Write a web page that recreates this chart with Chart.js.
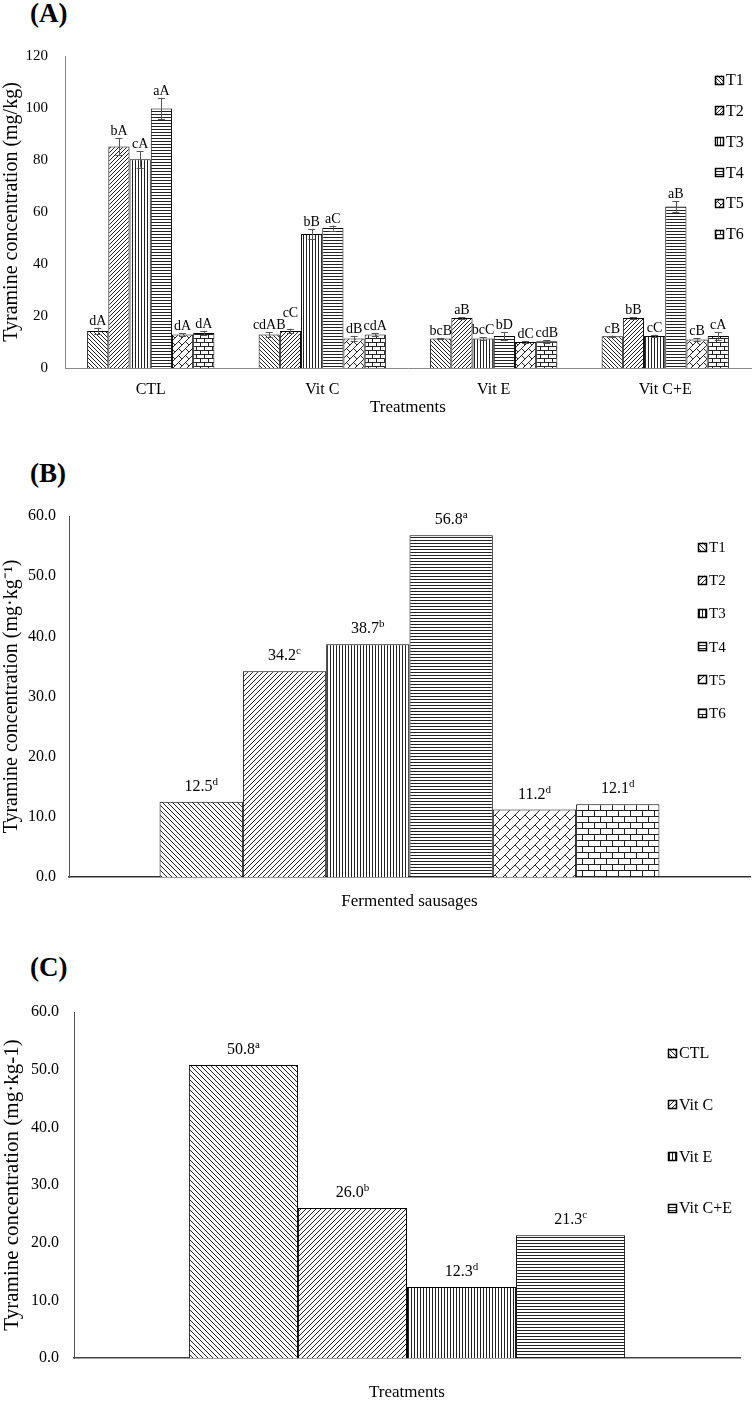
<!DOCTYPE html>
<html>
<head>
<meta charset="utf-8">
<script src="https://cdn.jsdelivr.net/npm/chart.js@4.4.1/dist/chart.umd.min.js"></script>
<style>
  body { margin: 0; background: #fff; width: 753px; height: 1403px; position: relative; overflow: hidden; font-family: "Liberation Serif", "Times New Roman", serif; }
  .tag { position: absolute; left: 30px; font-weight: bold; font-size: 27px; line-height: 27px; color: #000; }
  .box { position: absolute; left: 0; width: 753px; }
</style>
</head>
<body>
<div class="tag" style="top:0px">(A)</div>
<div class="box" style="top:30px;height:390px"><canvas id="chartA"></canvas></div>
<div class="tag" style="top:460px">(B)</div>
<div class="box" style="top:480px;height:435px"><canvas id="chartB"></canvas></div>
<div class="tag" style="top:954px">(C)</div>
<div class="box" style="top:970px;height:433px"><canvas id="chartC"></canvas></div>

<script>
/* ── data ─────────────────────────────────────────────── */
var treatments = ['CTL', 'Vit C', 'Vit E', 'Vit C+E'];
var tNames = ['T1', 'T2', 'T3', 'T4', 'T5', 'T6'];

// (A) one list per T, across the four treatments
var aT1 = [14.2, 12.9, 11.3, 12.2];
var aT2 = [85.2, 14.2, 19.2, 19.2];
var aT3 = [80.3, 51.5, 11.3, 12.3];
var aT4 = [99.8, 53.8, 12.3, 62.1];
var aT5 = [12.9, 11.3, 10.0, 11.0];
var aT6 = [13.5, 12.9, 10.3, 12.3];
var aErr1 = [1.3, 0.9, 0.3, 0.3];
var aErr2 = [3.2, 0.9, 0.3, 0.3];
var aErr3 = [3.2, 2.0, 0.5, 0.5];
var aErr4 = [4.1, 1.0, 1.5, 2.0];
var aErr5 = [0.4, 1.0, 0.3, 0.6];
var aErr6 = [0.8, 0.5, 0.5, 1.5];
var aLab1 = ['dA', 'cdAB', 'bcB', 'cB'];
var aLab2 = ['bA', 'cC', 'aB', 'bB'];
var aLab3 = ['cA', 'bB', 'bcC', 'cC'];
var aLab4 = ['aA', 'aC', 'bD', 'aB'];
var aLab5 = ['dA', 'dB', 'dC', 'cB'];
var aLab6 = ['dA', 'cdA', 'cdB', 'cA'];
var aTicks = [0, 20, 40, 60, 80, 100, 120];

// (B) fermented sausages, T1..T6
var bValues = [12.5, 34.2, 38.7, 56.8, 11.2, 12.1];
var bLetters = ['d', 'c', 'b', 'a', 'd', 'd'];
var bTicks = [0, 10, 20, 30, 40, 50, 60];

// (C) treatments
var cValues = [50.8, 26.0, 12.3, 21.3];
var cLetters = ['a', 'b', 'd', 'c'];
var cTicks = [0, 10, 20, 30, 40, 50, 60];

var SERIF = '"Liberation Serif", "Times New Roman", serif';

/* ── hatch patterns (Excel style) ─────────────────────── */
function makePattern(kind, s) {
  var c = document.createElement('canvas');
  c.width = s; c.height = s;
  var g = c.getContext('2d');
  g.fillStyle = '#fff';
  g.fillRect(0, 0, s, s);
  g.strokeStyle = '#222';
  g.lineWidth = 1;
  g.beginPath();
  if (kind === 'down') {
    g.moveTo(0, 0); g.lineTo(s, s);
    g.moveTo(-1, s - 1); g.lineTo(1, s + 1);
    g.moveTo(s - 1, -1); g.lineTo(s + 1, 1);
  } else if (kind === 'up') {
    g.moveTo(0, s); g.lineTo(s, 0);
    g.moveTo(-1, 1); g.lineTo(1, -1);
    g.moveTo(s - 1, s + 1); g.lineTo(s + 1, s - 1);
  } else if (kind === 'vert') {
    g.moveTo(0.5, 0); g.lineTo(0.5, s);
  } else if (kind === 'horiz') {
    g.moveTo(0, 0.5); g.lineTo(s, 0.5);
  } else if (kind === 'dbrick') {
    g.moveTo(0, s); g.lineTo(s, 0);
    g.moveTo(-1, 1); g.lineTo(1, -1);
    g.moveTo(s - 1, s + 1); g.lineTo(s + 1, s - 1);
    g.moveTo(s / 2, s / 2); g.lineTo(s, s);
  } else if (kind === 'hbrick') {
    var h = s / 2;
    g.moveTo(0, 0.5); g.lineTo(s, 0.5);
    g.moveTo(0, h + 0.5); g.lineTo(s, h + 0.5);
    g.moveTo(0.5, 0); g.lineTo(0.5, h);
    g.moveTo(h + 0.5, h); g.lineTo(h + 0.5, s);
  }
  g.stroke();
  return g.createPattern(c, 'repeat');
}

/* ── plugins ──────────────────────────────────────────── */
// error bars + letter labels for (A)
var errLabelPlugin = {
  id: 'errLabels',
  afterDatasetsDraw: function(chart, args, opts) {
    if (!opts.errors) return;
    var ctx = chart.ctx, y = chart.scales.y;
    var placed = [];
    ctx.save();
    ctx.font = opts.font;
    chart.data.datasets.forEach(function(ds, i) {
      var meta = chart.getDatasetMeta(i);
      meta.data.forEach(function(bar, j) {
        var v = ds.data[j], e = opts.errors[i][j];
        var yt = y.getPixelForValue(v + e), yb = y.getPixelForValue(v - e);
        ctx.strokeStyle = '#555';
        ctx.lineWidth = 1;
        ctx.beginPath();
        ctx.moveTo(Math.round(bar.x) + 0.5, yt); ctx.lineTo(Math.round(bar.x) + 0.5, yb);
        ctx.moveTo(bar.x - 3.5, Math.round(yt) + 0.5); ctx.lineTo(bar.x + 3.5, Math.round(yt) + 0.5);
        ctx.moveTo(bar.x - 3.5, Math.round(yb) + 0.5); ctx.lineTo(bar.x + 3.5, Math.round(yb) + 0.5);
        ctx.stroke();
      });
    });
    // labels, nudged upward when they would collide
    var order = [];
    chart.data.datasets.forEach(function(ds, i) {
      chart.getDatasetMeta(i).data.forEach(function(bar, j) { order.push({i: i, j: j, bar: bar}); });
    });
    order.sort(function(a, b) { return a.j - b.j || a.i - b.i; });
    ctx.fillStyle = '#000';
    ctx.textAlign = 'center';
    ctx.textBaseline = 'alphabetic';
    order.forEach(function(o) {
      var ds = chart.data.datasets[o.i];
      var txt = opts.labels[o.i][o.j];
      var w = ctx.measureText(txt).width;
      var base = y.getPixelForValue(ds.data[o.j] + opts.errors[o.i][o.j]) - 3;
      var box = {l: o.bar.x - w / 2, r: o.bar.x + w / 2, t: base - 11, b: base};
      var moved = true;
      while (moved) {
        moved = false;
        placed.forEach(function(p) {
          if (box.l < p.r && box.r > p.l && box.t < p.b && box.b > p.t) {
            var d = box.b - p.t + 1;
            box.t -= d; box.b -= d; moved = true;
          }
        });
      }
      placed.push(box);
      ctx.fillText(txt, o.bar.x, box.b);
    });
    ctx.restore();
  }
};

// value labels with superscript letter for (B) and (C)
var supLabelPlugin = {
  id: 'supLabels',
  afterDatasetsDraw: function(chart, args, opts) {
    if (!opts.letters) return;
    var ctx = chart.ctx;
    ctx.save();
    ctx.fillStyle = '#000';
    ctx.textBaseline = 'alphabetic';
    chart.data.datasets.forEach(function(ds, i) {
      var bar = chart.getDatasetMeta(i).data[0];
      var num = ds.data[0].toFixed(1), sup = opts.letters[i];
      ctx.font = opts.size + 'px ' + SERIF;
      var w1 = ctx.measureText(num).width;
      ctx.font = Math.round(opts.size * 0.68) + 'px ' + SERIF;
      var w2 = ctx.measureText(sup).width;
      var x0 = bar.x - (w1 + w2) / 2, base = bar.y - opts.gap;
      ctx.textAlign = 'left';
      ctx.font = opts.size + 'px ' + SERIF;
      ctx.fillText(num, x0, base);
      ctx.font = Math.round(opts.size * 0.68) + 'px ' + SERIF;
      ctx.fillText(sup, x0 + w1, base - opts.size * 0.38);
    });
    ctx.restore();
  }
};

// legend drawn at fixed spot inside the plot
var boxLegendPlugin = {
  id: 'boxLegend',
  afterDraw: function(chart, args, opts) {
    if (!opts.x) return;
    var ctx = chart.ctx;
    ctx.save();
    ctx.font = opts.font;
    ctx.textBaseline = 'middle';
    ctx.textAlign = 'left';
    chart.data.datasets.forEach(function(ds, i) {
      var cy = opts.y + i * opts.step;
      var s = opts.size;
      ctx.fillStyle = ds.backgroundColor;
      ctx.fillRect(opts.x, cy - s / 2, s, s);
      ctx.strokeStyle = '#000';
      ctx.lineWidth = 1.5;
      ctx.strokeRect(opts.x + 0.5, Math.round(cy - s / 2) + 0.5, s - 1, s - 1);
      ctx.fillStyle = '#000';
      ctx.fillText(ds.label, opts.x + s + 2, cy + 1);
    });
    ctx.restore();
  }
};

Chart.register(errLabelPlugin, supLabelPlugin, boxLegendPlugin);

function fixedTicks(list) {
  return function(s) { s.ticks = list.map(function(v) { return {value: v}; }); };
}

/* ── (A) ──────────────────────────────────────────────── */
var aKinds = ['down', 'up', 'vert', 'horiz', 'dbrick', 'hbrick'];
var aSizes = [4, 4, 3, 3, 7, 8];
var aSeries = [aT1, aT2, aT3, aT4, aT5, aT6];
new Chart(document.getElementById('chartA'), {
  type: 'bar',
  data: {
    labels: treatments,
    datasets: aSeries.map(function(d, i) {
      return { label: tNames[i], data: d, backgroundColor: makePattern(aKinds[i], aSizes[i]),
               borderColor: '#000', borderWidth: 1, categoryPercentage: 0.742, barPercentage: 1 };
    })
  },
  options: {
    responsive: true, maintainAspectRatio: false, animation: false,
    layout: { padding: { top: 23, right: 2, left: 0, bottom: 0 } },
    plugins: {
      legend: { display: false }, tooltip: { enabled: false },
      errLabels: { errors: [aErr1, aErr2, aErr3, aErr4, aErr5, aErr6],
                   labels: [aLab1, aLab2, aLab3, aLab4, aLab5, aLab6],
                   font: '14px ' + SERIF },
      boxLegend: { x: 715, y: 50, step: 30.8, size: 9, font: '16px ' + SERIF }
    },
    scales: {
      x: {
        grid: { display: false, drawTicks: false },
        border: { display: true, color: '#888', width: 1 },
        ticks: { color: '#000', font: { family: SERIF, size: 16 }, padding: 12 },
        title: { display: true, text: 'Treatments', color: '#000', font: { family: SERIF, size: 17 }, padding: { top: 0, bottom: 2 } },
        afterFit: function(s) { s.height = 52; }
      },
      y: {
        min: 0, max: 120,
        afterBuildTicks: fixedTicks(aTicks),
        grid: { display: false, drawTicks: false },
        border: { display: true, color: '#888', width: 1 },
        ticks: { color: '#000', font: { family: SERIF, size: 15 }, padding: 17 },
        title: { display: true, text: 'Tyramine concentration (mg/kg)', color: '#000', font: { family: SERIF, size: 20 }, padding: { top: 0, bottom: 0 } },
        afterFit: function(s) { s.width = 65; }
      }
    }
  }
});

/* ── (B) ──────────────────────────────────────────────── */
var bSizes = [5, 5, 3, 3, 10, 12];
new Chart(document.getElementById('chartB'), {
  type: 'bar',
  data: {
    labels: [''],
    datasets: bValues.map(function(v, i) {
      return { label: tNames[i], data: [v], backgroundColor: makePattern(aKinds[i], bSizes[i]),
               borderColor: '#000', borderWidth: 1, categoryPercentage: 0.734, barPercentage: 1 };
    })
  },
  options: {
    responsive: true, maintainAspectRatio: false, animation: false,
    layout: { padding: { top: 36, right: 3, left: 0, bottom: 0 } },
    plugins: {
      legend: { display: false }, tooltip: { enabled: false },
      supLabels: { letters: bLetters, size: 16, gap: 11 },
      boxLegend: { x: 698, y: 67, step: 33.2, size: 9, font: '15px ' + SERIF }
    },
    scales: {
      x: {
        grid: { display: false, drawTicks: false },
        border: { display: true, color: '#333', width: 1.5 },
        ticks: { display: false },
        title: { display: true, text: 'Fermented sausages', color: '#000', font: { family: SERIF, size: 17 }, padding: { top: 0, bottom: 3 } },
        afterFit: function(s) { s.height = 38; }
      },
      y: {
        min: 0, max: 60,
        afterBuildTicks: fixedTicks(bTicks),
        grid: { display: false, drawTicks: false },
        border: { display: true, color: '#555', width: 1 },
        ticks: { color: '#000', font: { family: SERIF, size: 16 }, padding: 13, callback: function(v) { return v.toFixed(1); } },
        title: { display: true, text: 'Tyramine concentration (mg\u00B7kg\u207B\u00B9)', color: '#000', font: { family: SERIF, size: 20 }, padding: { top: 0, bottom: 0 } },
        afterFit: function(s) { s.width = 69; }
      }
    }
  }
});

/* ── (C) ──────────────────────────────────────────────── */
var cNames = treatments;
var cKinds = ['down', 'up', 'vert', 'horiz'];
var cSizes = [5, 5, 3, 3];
new Chart(document.getElementById('chartC'), {
  type: 'bar',
  data: {
    labels: [''],
    datasets: cValues.map(function(v, i) {
      return { label: cNames[i], data: [v], backgroundColor: makePattern(cKinds[i], cSizes[i]),
               borderColor: '#000', borderWidth: 1, categoryPercentage: 0.655, barPercentage: 1 };
    })
  },
  options: {
    responsive: true, maintainAspectRatio: false, animation: false,
    layout: { padding: { top: 42, right: 13, left: 0, bottom: 0 } },
    plugins: {
      legend: { display: false }, tooltip: { enabled: false },
      supLabels: { letters: cLetters, size: 16, gap: 11 },
      boxLegend: { x: 668, y: 83, step: 51.7, size: 9, font: '16px ' + SERIF }
    },
    scales: {
      x: {
        grid: { display: false, drawTicks: false },
        border: { display: true, color: '#444', width: 1.5 },
        ticks: { display: false },
        title: { display: true, text: 'Treatments', color: '#000', font: { family: SERIF, size: 17 }, padding: { top: 0, bottom: 0 } },
        afterFit: function(s) { s.height = 45; }
      },
      y: {
        min: 0, max: 60,
        afterBuildTicks: fixedTicks(cTicks),
        grid: { display: false, drawTicks: false },
        border: { display: true, color: '#555', width: 1 },
        ticks: { color: '#000', font: { family: SERIF, size: 16 }, padding: 15, callback: function(v) { return v.toFixed(1); } },
        title: { display: true, text: 'Tyramine concentration (mg\u00B7kg-1)', color: '#000', font: { family: SERIF, size: 21 }, padding: { top: 0, bottom: 0 } },
        afterFit: function(s) { s.width = 74; }
      }
    }
  }
});
</script>
</body>
</html>
